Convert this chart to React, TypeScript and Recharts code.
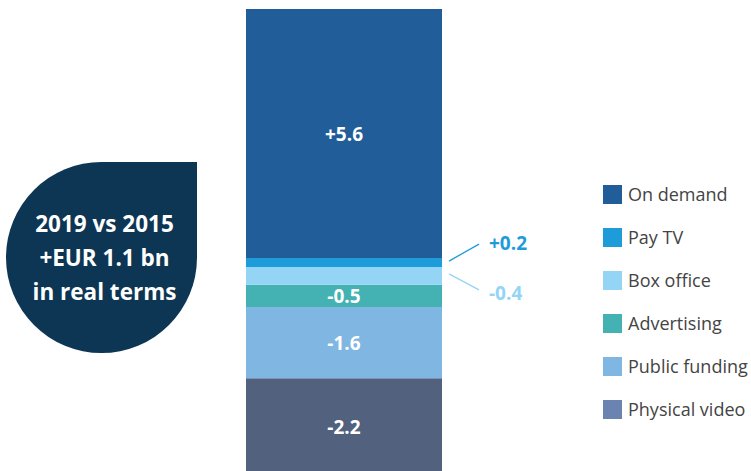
import React from "react";
import { BarChart, Bar, XAxis, YAxis, LabelList } from "recharts";

const categories = ["Physical video", "Public funding", "Advertising", "Box office", "Pay TV", "On demand"];
const changes = [-2.2, -1.6, -0.5, -0.4, 0.2, 5.6];
const barColors = ["#52617e", "#80b6e2", "#44b2b2", "#94d5f5", "#1e9cd9", "#215d99"];
const legendColors = ["#6a83b0", "#80b6e2", "#44b2b2", "#94d5f5", "#1e9cd9", "#215d99"];
const outsideLabels = ["Pay TV", "Box office"];
const bubbleLines = ["2019 vs 2015", "+EUR 1.1 bn", "in real terms"];

const FONT = "'Open Sans', 'Noto Sans', sans-serif";

const row: Record<string, number | string> = { name: "2019 vs 2015" };
categories.forEach((c, i) => {
  row[c] = Math.abs(changes[i]);
});
const data = [row];

const fmt = (v: number) => (v > 0 ? "+" : "") + v.toFixed(1);

const makeInsideLabel = (i: number) => (props: any) => {
  const { x, y, width, height } = props;
  return (
    <text
      x={x + width / 2}
      y={y + height / 2}
      textAnchor="middle"
      dominantBaseline="central"
      fill="#ffffff"
      fontFamily={FONT}
      fontWeight={700}
      fontSize={19}
    >
      {fmt(changes[i])}
    </text>
  );
};

const makeOutsideLabel = (i: number, up: boolean) => (props: any) => {
  const { x, y, width, height } = props;
  const x0 = x + width + 7;
  const y0 = up ? y + 3 : y + height / 2 - 2;
  const x1 = x0 + 30;
  const y1 = up ? y0 - 17 : y0 + 16;
  const color = barColors[i];
  return (
    <g>
      <line x1={x0} y1={y0} x2={x1} y2={y1} stroke={color} strokeWidth={1.3} />
      <text
        x={x1 + 10}
        y={up ? y1 - 1 : y1 + 3}
        textAnchor="start"
        dominantBaseline="central"
        fill={color}
        fontFamily={FONT}
        fontWeight={700}
        fontSize={19}
      >
        {fmt(changes[i])}
      </text>
    </g>
  );
};

const legendOrder = [...categories].map((c, i) => ({ c, i })).reverse();

export default function App() {
  return (
    <div style={{ position: "absolute", left: 0, top: 0, width: 751, height: 471, background: "#fff", overflow: "hidden" }}>
      <div
        style={{
          position: "absolute",
          left: 6,
          top: 162,
          width: 191,
          height: 191,
          background: "#0c3653",
          borderRadius: "50% 0 50% 50%",
          display: "flex",
          flexDirection: "column",
          alignItems: "center",
          justifyContent: "center",
          color: "#fff",
          fontFamily: FONT,
          fontWeight: 700,
          fontSize: 22.5,
          lineHeight: "34px",
          paddingLeft: 6,
          paddingTop: 0,
          boxSizing: "border-box",
        }}
      >
        {bubbleLines.map((l) => (
          <div key={l}>{l}</div>
        ))}
      </div>
      <div style={{ position: "absolute", left: 603, top: 173, fontFamily: FONT }}>
        {legendOrder.map(({ c, i }) => (
          <div key={c} style={{ display: "flex", alignItems: "center", height: 43 }}>
            <div style={{ width: 19, height: 19, background: legendColors[i], marginRight: 6 }} />
            <span style={{ fontSize: 18, color: "#444444", lineHeight: "19px" }}>{c}</span>
          </div>
        ))}
      </div>
      <div style={{ position: "absolute", left: 0, top: 0 }}>
        <BarChart
          width={751}
          height={476}
          data={data}
          margin={{ top: 9, right: 309, bottom: 0, left: 246 }}
          barCategoryGap={0}
        >
          <XAxis dataKey="name" hide />
          <YAxis hide domain={[0, 10.5]} />
          {categories.map((c, i) => (
            <Bar key={c} dataKey={c} stackId="a" fill={barColors[i]} isAnimationActive={false}>
              {outsideLabels.includes(c) ? (
                <LabelList dataKey={c} content={makeOutsideLabel(i, c === "Pay TV")} />
              ) : (
                <LabelList dataKey={c} content={makeInsideLabel(i)} />
              )}
            </Bar>
          ))}
        </BarChart>
      </div>
    </div>
  );
}
